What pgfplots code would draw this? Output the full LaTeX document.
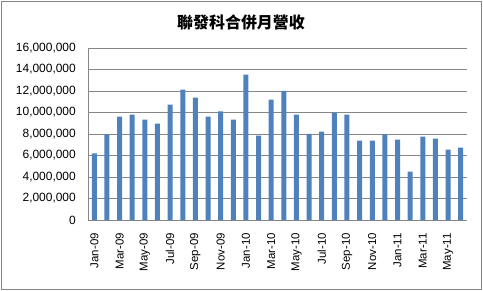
\documentclass[border=0pt]{standalone}
\usepackage{pgfplots}
\pgfplotsset{compat=1.18}
\usepackage{fontspec}
\setmainfont{Liberation Sans}
\newfontfamily\cjk{Noto Sans CJK TC}
\definecolor{barblue}{HTML}{4F81BD}
\definecolor{gridgray}{HTML}{868686}
\begin{document}
\begin{tikzpicture}
\draw[gridgray, line width=0.9bp] (1.5bp,1.5bp) rectangle (481.5bp,289.5bp);
\node[font={\cjk\bfseries\fontsize{16}{18}\selectfont}, anchor=center] at (241bp,269bp) {聯發科合併月營收};
\begin{axis}[
  at={(88bp,71bp)}, anchor=south west,
  scale only axis, width=379bp, height=172bp,
  xmin=-0.5, xmax=29.5, ymin=0, ymax=16000000,
  ybar, bar width=5bp,
  axis x line*=bottom, axis y line*=left,
  axis line style={gridgray, line width=0.9bp, -},
  ytick={0,2000000,4000000,6000000,8000000,10000000,12000000,14000000,16000000},
  scaled y ticks=false,
  yticklabel style={/pgf/number format/.cd, fixed, 1000 sep={,}},
  /pgf/number format/assume math mode=true,
  ymajorgrids, grid style={gridgray, line width=0.9bp},
  major tick length=0pt,
  tick label style={font=\fontsize{12}{14}\selectfont, inner sep=0pt, black},
  yticklabel shift=12bp,
  xtick={0,2,4,6,8,10,12,14,16,18,20,22,24,26,28},
  xticklabels={Jan-09,Mar-09,May-09,Jul-09,Sep-09,Nov-09,Jan-10,Mar-10,May-10,Jul-10,Sep-10,Nov-10,Jan-11,Mar-11,May-11},
  xticklabel style={rotate=90, anchor=east, font=\fontsize{11.5}{13}\selectfont},
  xticklabel shift=13bp,
  clip=false,
]
\addplot[fill=barblue, draw=none] coordinates {
(0,6200000) (1,7970000) (2,9610000) (3,9800000) (4,9330000) (5,8960000)
(6,10730000) (7,12120000) (8,11380000) (9,9610000) (10,10110000) (11,9330000)
(12,13520000) (13,7840000) (14,11190000) (15,12000000) (16,9800000) (17,8000000)
(18,8220000) (19,9980000) (20,9800000) (21,7380000) (22,7380000) (23,7970000)
(24,7470000) (25,4500000) (26,7750000) (27,7570000) (28,6540000) (29,6730000)
};
\end{axis}
\pgfresetboundingbox
\path[use as bounding box] (0,0) rectangle (483bp,291bp);
\end{tikzpicture}
\end{document}
